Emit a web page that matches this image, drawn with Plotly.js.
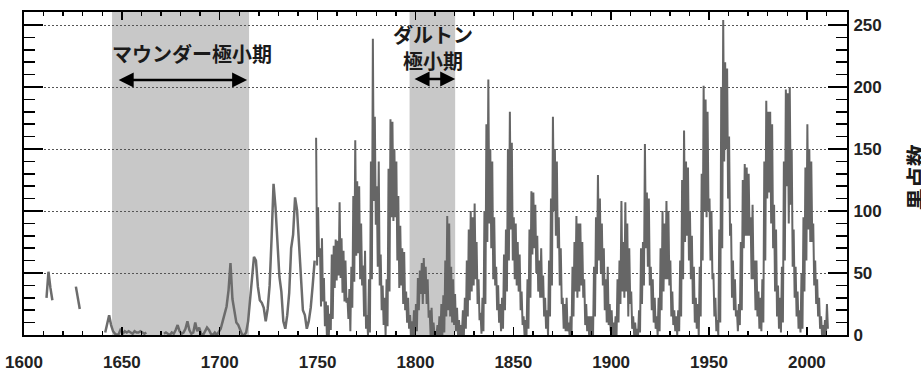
<!DOCTYPE html>
<html>
<head>
<meta charset="utf-8">
<script src="https://cdn.plot.ly/plotly-3.0.1.min.js"></script>
<style>
html,body{margin:0;padding:0;background:#fff;}
#chart{width:921px;height:371px;}
</style>
</head>
<body>
<div id="chart"></div>
<script>
// Early (yearly) sunspot numbers, 1610-1748 (null = no data)
const earlyYears = [];
for (let y = 1610; y <= 1748; y++) earlyYears.push(y);
const earlyValues = [
  null, 30, 51, 38, 28,                                   // 1610-1614
  null, null, null, null, null, null, null, null, null, null, null, // 1615-1625
  39, 30, 21,                                             // 1626-1628
  null, null, null, null, null, null, null, null, null, null, null, null, // 1629-1640
  2, 9, 16, 8, 3, 1, 0, 1, 5, 1,                          // 1641-1650
  3, 2, 3, 2, 1, 3, 2, 2, 3, 2, 1, 2,                     // 1651-1662
  null, null, null, null, null, null, null, null,         // 1663-1670
  1, 2, 1, 0, 2, 1, 4, 8, 3, 1,                           // 1671-1680
  2, 5, 11, 4, 1, 2, 10, 3, 6, 1,                         // 1681-1690
  0, 3, 6, 4, 1, 0, 2, 0, 3,                              // 1691-1699
  5, 11, 16, 23, 36, 58, 29, 20, 10, 8,                   // 1700-1709
  3, 0, 0, 2, 11, 27, 47, 63, 60, 39,                     // 1710-1719
  28, 26, 22, 11, 21, 40, 78, 122, 103, 73,               // 1720-1729
  47, 35, 11, 5, 16, 34, 70, 81, 111, 101,                // 1730-1739
  73, 40, 20, 16, 5, 11, 22, 40, 60                       // 1740-1748
];

// Monthly sunspot numbers 1749-2010: yearly highest and lowest monthly values
const monthYears = [];
for (let y = 1749; y <= 2010; y++) monthYears.push(y);
const monthlyHigh = [
  159,103,70,78,46,27,24,17,65,72,77,76,107,78,68,60,30,37,55,112,   // 1749-1768
  157,124,120,90,56,68,16,45,140,239,176,120,140,65,40,30,45,134,174,172, // 1769-1788
  150,140,112,88,70,67,35,30,16,11,20,25,46,52,58,62,55,45,20,22,    // 1789-1808
  10,1,8,15,25,32,60,96,90,55,45,33,22,12,8,20,30,60,85,100,         // 1809-1828
  95,106,75,45,18,30,100,170,206,150,140,95,55,40,25,30,65,85,150,180, // 1829-1848
  155,95,90,75,65,35,15,12,45,85,116,115,105,80,60,70,48,30,20,60,   // 1849-1868
  110,176,150,140,95,70,30,25,30,10,15,55,75,96,90,90,75,45,25,15,   // 1869-1888
  15,15,55,95,129,110,90,70,45,55,25,20,10,15,45,60,108,75,107,90,   // 1889-1908
  70,35,15,10,5,20,70,75,154,115,110,55,45,30,15,30,70,100,90,108,   // 1909-1928
  100,60,35,20,15,20,60,125,165,140,135,100,80,55,30,25,55,130,201,190, // 1929-1948
  180,110,100,50,30,12,85,200,254,220,215,160,90,60,45,20,25,75,125,138, // 1949-1968
  135,130,95,105,60,60,35,30,45,140,189,180,180,170,105,85,40,30,55,140, // 1969-1988
  198,195,200,150,85,55,35,20,50,95,135,170,150,140,90,60,45,30,15,8, // 1989-2008
  12,25                                                              // 2009-2010
];
const monthlyLow = [
  56,63,23,27,7,0,0,4,13,38,44,48,46,34,27,26,13,3,22,43,            // 1749-1768
  64,66,45,40,15,5,0,2,45,108,89,55,40,20,8,0,7,35,95,92,            // 1769-1788
  95,60,38,40,25,20,10,5,0,0,0,3,20,33,25,33,25,14,0,0,              // 1789-1808
  0,0,0,0,0,2,15,20,15,10,8,3,0,0,0,0,5,15,28,35,                    // 1809-1828
  40,45,25,12,1,3,25,75,90,70,45,40,20,10,3,5,20,35,60,85,           // 1829-1848
  60,45,40,35,20,8,0,0,5,30,65,70,50,35,30,30,15,5,0,15,             // 1849-1868
  40,100,80,70,40,25,5,3,3,0,0,15,35,30,35,40,30,8,3,0,              // 1869-1888
  0,0,15,50,60,50,40,20,10,8,3,0,0,0,10,25,35,30,35,15,              // 1889-1908
  25,5,0,0,0,2,25,40,70,55,40,20,10,5,0,3,20,35,45,45,               // 1909-1928
  40,15,8,3,0,3,15,45,75,80,60,45,25,10,5,0,15,60,100,95,            // 1929-1948
  100,60,45,15,3,0,10,70,140,150,110,80,30,20,15,3,8,20,70,80,       // 1949-1968
  80,80,45,45,20,15,5,3,10,60,110,115,90,70,35,15,5,2,10,60,         // 1969-1988
  120,90,105,55,30,15,5,2,5,35,60,85,75,75,40,25,15,5,0,0,           // 1989-2008
  0,5                                                                // 2009-2010
];

// Periods and labels
const periods = [
  {name: 'マウンダー極小期', start: 1645, end: 1715, arrowFrom: 1647.6, arrowTo: 1714},
  {name: 'ダルトン極小期', start: 1797, end: 1820.3, arrowFrom: 1798.8, arrowTo: 1820.3}
];
const xTicks = [1600, 1650, 1700, 1750, 1800, 1850, 1900, 1950, 2000];
const yTicks = [0, 50, 100, 150, 200, 250];

// Build the plotted series
const earlyX = earlyYears.map(y => y + 0.5);
const monthX = [], monthY = [];
monthYears.forEach((y, i) => {
  monthX.push(y + 0.25); monthY.push(monthlyHigh[i]);
  monthX.push(y + 0.75); monthY.push(monthlyLow[i]);
});

const traces = [
  {x: earlyX, y: earlyValues, type: 'scatter', mode: 'lines',
   line: {color: '#6c6c6c', width: 2.5}, connectgaps: false, hoverinfo: 'skip', showlegend: false},
  {x: monthX, y: monthY, type: 'scatter', mode: 'lines',
   line: {color: '#666666', width: 2}, hoverinfo: 'skip', showlegend: false}
];

const tickFont = {family: 'Liberation Sans, Arial, sans-serif', size: 17, color: '#222', weight: 'bold'};
const jpFont = {family: 'Noto Sans CJK JP, sans-serif', size: 20, color: '#1a1a1a', weight: 'bold'};

const layout = {
  width: 921, height: 371,
  margin: {l: 24, r: 74, t: 12, b: 36},
  paper_bgcolor: '#ffffff', plot_bgcolor: '#ffffff',
  showlegend: false,
  xaxis: {
    range: [1600, 2020.5], tickvals: xTicks, ticktext: xTicks.map(String),
    ticks: 'inside', ticklen: 8, tickwidth: 1.5, tickcolor: '#000',
    minor: {dtick: 10, tick0: 1600, ticks: 'inside', ticklen: 4, tickwidth: 1.5, tickcolor: '#000', showgrid: false},
    showline: true, linewidth: 2, linecolor: '#000', mirror: 'ticks',
    showgrid: false, zeroline: false, tickfont: tickFont, ticklabelstandoff: 11
  },
  yaxis: {
    side: 'right', range: [0, 260.5], tickvals: yTicks, ticktext: yTicks.map(String),
    ticks: 'inside', ticklen: 19, tickwidth: 1.5, tickcolor: '#000',
    minor: {dtick: 10, tick0: 0, ticks: 'inside', ticklen: 11, tickwidth: 1.5, tickcolor: '#000', showgrid: false},
    showline: true, linewidth: 2, linecolor: '#000', mirror: 'ticks',
    showgrid: true, gridcolor: '#555', gridwidth: 1, griddash: '2px,2px',
    zeroline: false, tickfont: tickFont, ticklabelstandoff: 1
  },
  shapes: periods.map(p => ({
    type: 'rect', xref: 'x', yref: 'paper', x0: p.start, x1: p.end, y0: 0, y1: 1,
    fillcolor: '#c8c8c8', line: {width: 0}, layer: 'below'
  })),
  annotations: [
    {xref: 'x', yref: 'y', x: 1685.8, y: 227.4, text: 'マウンダー極小期', showarrow: false, font: jpFont},
    {xref: 'x', yref: 'y', x: 1809.1, y: 231.7, text: 'ダルトン<br>極小期', showarrow: false, font: jpFont,
     yanchor: 'middle', align: 'center'},
    {xref: 'x', yref: 'y', axref: 'x', ayref: 'y', x: periods[0].arrowTo, y: 205.6,
     ax: periods[0].arrowFrom, ay: 205.6, text: '', showarrow: true, arrowhead: 2, startarrowhead: 2,
     arrowside: 'end+start', arrowsize: 1.2, startarrowsize: 1.2, arrowwidth: 2.5, arrowcolor: '#000'},
    {xref: 'x', yref: 'y', axref: 'x', ayref: 'y', x: periods[1].arrowTo, y: 206.5,
     ax: periods[1].arrowFrom, ay: 206.5, text: '', showarrow: true, arrowhead: 2, startarrowhead: 2,
     arrowside: 'end+start', arrowsize: 1.2, startarrowsize: 1.2, arrowwidth: 2.5, arrowcolor: '#000'},
    {xref: 'paper', yref: 'paper', x: 1.104, y: 0.487, text: '黒点数', showarrow: false,
     textangle: -90, font: {family: 'Noto Sans CJK JP, sans-serif', size: 22, color: '#1a1a1a', weight: 'bold'}}
  ]
};

Plotly.newPlot('chart', traces, layout, {displayModeBar: false, staticPlot: true});
</script>
</body>
</html>
